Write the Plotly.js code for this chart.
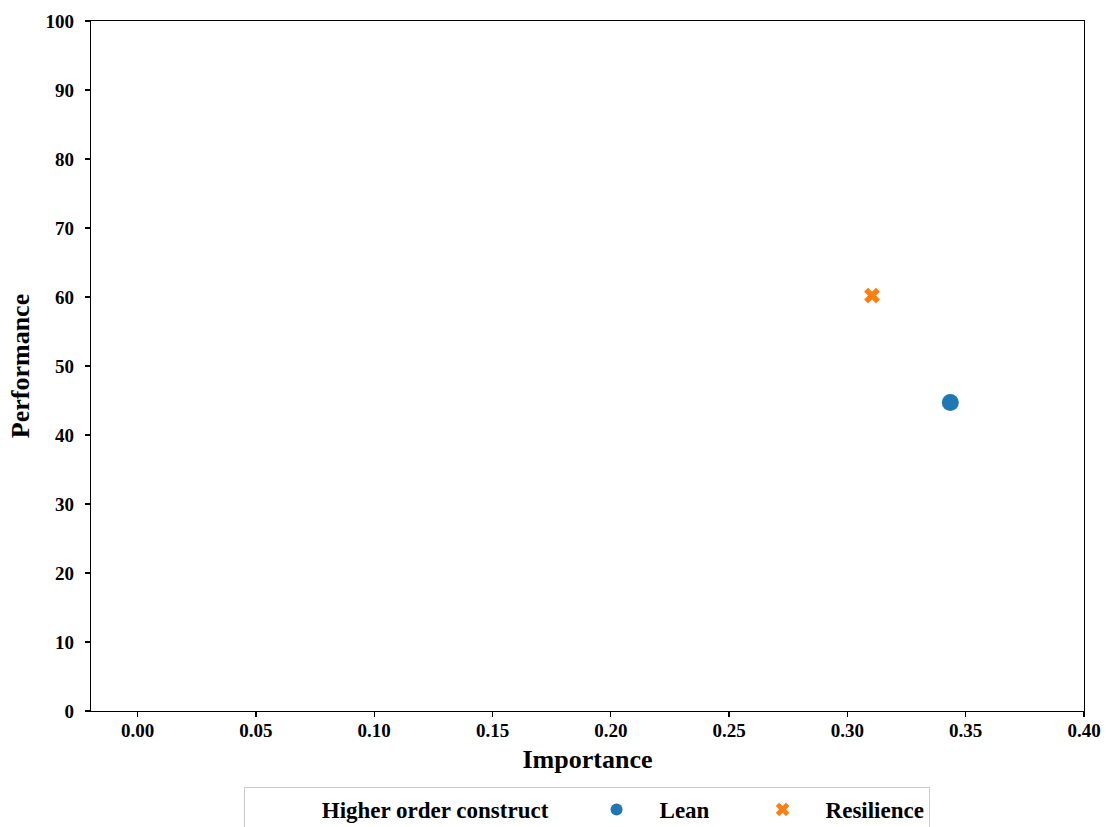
<!DOCTYPE html>
<html>
<head>
<meta charset="utf-8">
<script src="https://cdn.plot.ly/plotly-3.0.1.min.js"></script>
<style>body{margin:0;padding:0;background:#fff;}#chart{width:1106px;height:827px;}</style>
</head>
<body>
<div id="chart"></div>
<script>
const constructs = ["Lean", "Resilience"];
const importance = [0.3435, 0.3104];
const performance = [44.7, 60.2];
const legendTitle = "Higher order construct";
const xTicks = [0.00, 0.05, 0.10, 0.15, 0.20, 0.25, 0.30, 0.35, 0.40];
const yTicks = [0, 10, 20, 30, 40, 50, 60, 70, 80, 90, 100];

const colors = ["#1f77b4", "#ff7f0e"];
const symbols = ["circle", "x"];
const sizes = [17, 14];
const FONT = "Liberation Serif, Times New Roman, serif";
const nb = "\u00A0";

const traces = constructs.map((c, i) => ({
  type: "scatter",
  mode: "markers",
  name: nb.repeat(4) + c,
  x: [importance[i]],
  y: [performance[i]],
  marker: {color: colors[i], symbol: symbols[i], size: sizes[i], line: {width: 0}}
}));

const layout = {
  width: 1106, height: 827,
  margin: {l: 91, r: 22, t: 21, b: 116},
  paper_bgcolor: "#fff", plot_bgcolor: "#fff",
  font: {family: FONT, color: "#000", weight: "bold"},
  xaxis: {
    range: [-0.0197, 0.40],
    tickvals: xTicks,
    ticktext: xTicks.map(v => v.toFixed(2)),
    ticks: "outside", ticklen: 5, tickwidth: 1.2, tickcolor: "#000",
    ticklabelstandoff: -3,
    showline: true, linecolor: "#000", linewidth: 1.3, mirror: true,
    showgrid: false, zeroline: false,
    tickfont: {family: FONT, size: 19, weight: "bold", color: "#000"},
    title: {text: "Importance", font: {family: FONT, size: 26, weight: "bold"}, standoff: 9}
  },
  yaxis: {
    range: [0, 100],
    tickvals: yTicks,
    ticks: "outside", ticklen: 5, tickwidth: 1.2, tickcolor: "#000",
    ticklabelstandoff: 7,
    showline: true, linecolor: "#000", linewidth: 1.3, mirror: true,
    showgrid: false, zeroline: false,
    tickfont: {family: FONT, size: 19, weight: "bold", color: "#000"},
    title: {text: "Performance", font: {family: FONT, size: 26, weight: "bold"}, standoff: 8}
  },
  showlegend: true,
  legend: {
    orientation: "h",
    xref: "paper", x: 0.4995, xanchor: "center",
    yref: "container", y: 0.0484, yanchor: "top",
    bordercolor: "#cccccc", borderwidth: 1,
    bgcolor: "#fff",
    itemsizing: "constant",
    entrywidth: 121,
    font: {family: FONT, size: 23, weight: "bold", color: "#000"},
    title: {text: nb.repeat(13) + legendTitle + nb.repeat(7), side: "left", font: {family: FONT, size: 23, weight: "bold"}}
  }
};

Plotly.newPlot("chart", traces, layout, {displayModeBar: false, staticPlot: true});
</script>
</body>
</html>
